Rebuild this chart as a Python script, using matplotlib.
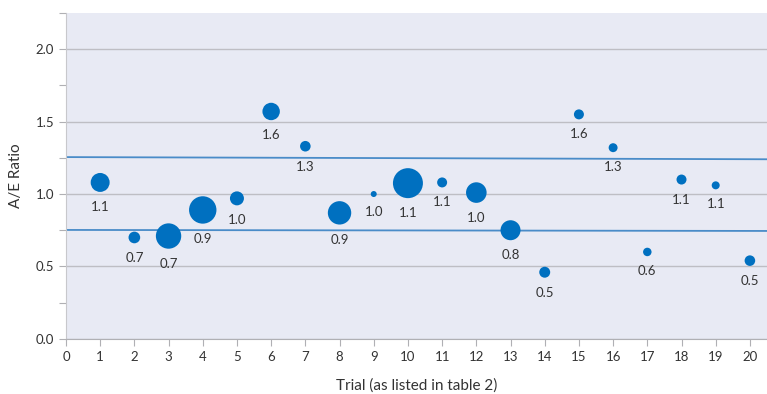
import matplotlib.pyplot as plt
from matplotlib.ticker import MultipleLocator

plt.rcParams['font.family'] = ['Lato', 'DejaVu Sans']

# A/E ratio per trial, bubble size ~ relative weight of each trial
trials = list(range(1, 21))
ae_ratio = [1.08, 0.70, 0.71, 0.89, 0.97, 1.57, 1.33, 0.87, 1.00, 1.075,
            1.08, 1.01, 0.75, 0.46, 1.55, 1.32, 0.60, 1.10, 1.06, 0.54]
weight = [90, 34, 161, 188, 49, 76, 28, 137, 9, 225,
          25, 106, 100, 30, 25, 20, 18, 25, 16, 28]
labels = ['1.1', '0.7', '0.7', '0.9', '1.0', '1.6', '1.3', '0.9', '1.0', '1.1',
          '1.1', '1.0', '0.8', '0.5', '1.6', '1.3', '0.6', '1.1', '1.1', '0.5']

# bounds drawn as lines across the chart
upper_x = [0, 20.5]
upper_y = [1.255, 1.24]
lower_x = [0, 20.5]
lower_y = [0.752, 0.745]

fig = plt.figure(figsize=(7.67, 3.94), dpi=100)
ax = fig.add_axes([0.086, 0.140, 0.914, 0.827])
ax.set_facecolor('#E8EAF4')

ax.set_xlim(0, 20.5)
ax.set_ylim(0, 2.25)

ax.yaxis.set_major_locator(MultipleLocator(0.5))
ax.yaxis.set_minor_locator(MultipleLocator(0.25))
ax.xaxis.set_major_locator(MultipleLocator(1))
ax.grid(axis='y', which='major', color='#BEBEC4', linewidth=1.0)
ax.set_axisbelow(True)

for s in ['top', 'right']:
    ax.spines[s].set_visible(False)
ax.spines['left'].set_color('#C8C8CC')
ax.spines['bottom'].set_color('#B0B0B4')
ax.tick_params(axis='both', which='both', colors='#B0B0B4', labelcolor='#333333',
               labelsize=9.5, direction='out')
ax.tick_params(axis='x', length=5, width=0.8)
ax.tick_params(axis='y', which='both', length=5, width=0.8)
ax.yaxis.set_major_formatter(plt.FuncFormatter(lambda v, p: f'{v:.1f}'))

ax.plot(upper_x, upper_y, color='#4A8CC8', linewidth=1.3, zorder=2)
ax.plot(lower_x, lower_y, color='#4A8CC8', linewidth=1.3, zorder=2)

sizes = [w * 2.07 for w in weight]
ax.scatter(trials, ae_ratio, s=sizes, color='#0070C0', edgecolors='none', zorder=3)

for x, y, w, t in zip(trials, ae_ratio, weight, labels):
    r = w ** 0.5
    ax.annotate(t, (x, y), xytext=(0, -(r + 15) * 0.72), textcoords='offset points',
                ha='center', va='center', fontsize=9.5, color='#333333')

ax.set_xlabel('Trial (as listed in table 2)', fontsize=11, color='#333333', labelpad=11)
ax.set_ylabel('A/E Ratio', fontsize=11, color='#333333', labelpad=9)

plt.savefig('out.png', dpi=100)
